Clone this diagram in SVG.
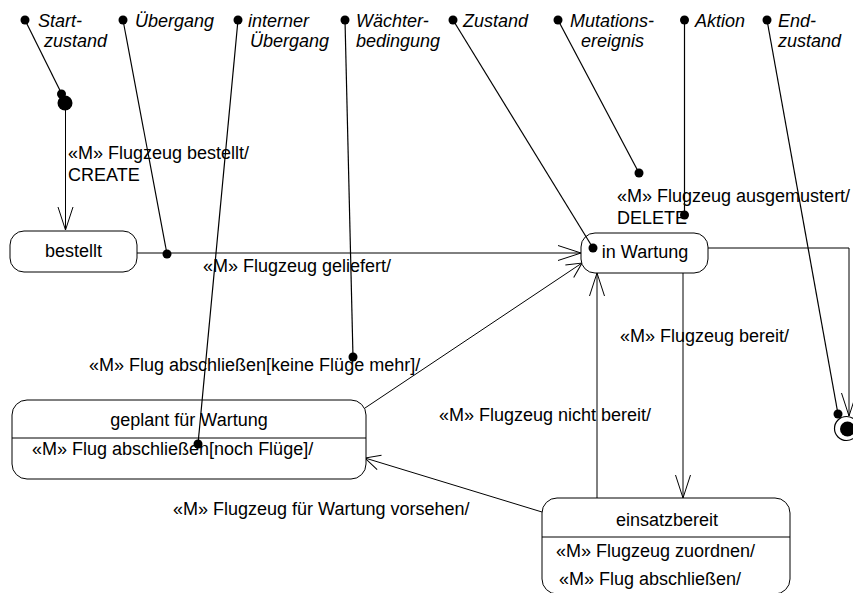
<svg xmlns="http://www.w3.org/2000/svg" width="853" height="593" viewBox="0 0 853 593">
<style>
  text { font-family: "Liberation Sans", Arial, sans-serif; font-size: 18px; fill: #000; }
  .note { font-style: italic; }
  .mid { text-anchor: middle; }
  .box { fill: #fff; stroke: #000; stroke-width: 1; }
  .div { stroke: #000; stroke-width: 1; }
  .edge { fill: none; stroke: #000; stroke-width: 1; }
  .ann { fill: none; stroke: #000; stroke-width: 1.2; }
  .dot { fill: #000; }
</style>
<defs>
  <marker id="arrL" markerUnits="userSpaceOnUse" markerWidth="30" markerHeight="20" refX="0" refY="0" orient="auto" viewBox="-26 -10 30 20" style="overflow:visible">
    <path d="M -23 -7.5 L 0 0 L -23 7.5" fill="none" stroke="#000" stroke-width="1"/>
  </marker>
  <marker id="arrS" markerUnits="userSpaceOnUse" markerWidth="20" markerHeight="20" refX="0" refY="0" orient="auto" viewBox="-18 -10 20 20" style="overflow:visible">
    <path d="M -15 -7.5 L 0 0 L -15 7.5" fill="none" stroke="#000" stroke-width="1"/>
  </marker>
</defs>
<rect x="0" y="0" width="853" height="593" fill="#fff"/>

<g id="connectors">
  <path class="edge" d="M65.5 110 L65.5 230" marker-end="url(#arrL)"/>
  <path class="edge" d="M137 253 L581 253" stroke="#333" marker-end="url(#arrL)"/>
  <path class="edge" d="M365 408 L582 263" marker-end="url(#arrS)"/>
  <path class="edge" d="M597 498 L597 273" marker-end="url(#arrL)"/>
  <path class="edge" d="M683 273 L683 498" marker-end="url(#arrL)"/>
  <path class="edge" d="M542 512 L365 458" marker-end="url(#arrS)"/>
  <path class="edge" d="M708 248 L849 248 L849 416" marker-end="url(#arrL)"/>
</g>

<g id="start">
  <circle cx="65" cy="103" r="7.5" class="dot"/>
</g>

<g id="end">
  <circle cx="846.5" cy="428.5" r="12" fill="#fff" stroke="#000" stroke-width="1.2"/>
  <circle cx="847.5" cy="429" r="7.5" class="dot"/>
</g>

<g id="bestellt">
  <rect class="box" x="10" y="231" width="127" height="41" rx="14"/>
  <text class="mid" x="73.5" y="257">bestellt</text>
</g>

<g id="in-wartung">
  <rect class="box" x="581" y="233" width="127" height="40" rx="14"/>
  <text class="mid" x="645" y="258">in Wartung</text>
</g>

<g id="geplant">
  <rect class="box" x="12" y="400" width="354" height="79" rx="15"/>
  <line class="div" x1="12" y1="438" x2="366" y2="438"/>
  <text class="mid" x="189" y="426">geplant für Wartung</text>
  <text x="32" y="455">«M» Flug abschließen[noch Flüge]/</text>
</g>

<g id="einsatzbereit">
  <rect class="box" x="542" y="498" width="248" height="96" rx="15"/>
  <line class="div" x1="542" y1="537" x2="790" y2="537"/>
  <text class="mid" x="667" y="526">einsatzbereit</text>
  <text x="556" y="557">«M» Flugzeug zuordnen/</text>
  <text x="559" y="585">«M» Flug abschließen/</text>
</g>

<g id="labels">
  <text x="68" y="159">«M» Flugzeug bestellt/</text>
  <text x="68" y="181">CREATE</text>
  <text x="203" y="272">«M» Flugzeug geliefert/</text>
  <text x="617" y="202">«M» Flugzeug ausgemustert/</text>
  <text x="617" y="223.5">DELETE</text>
  <text x="620" y="342">«M» Flugzeug bereit/</text>
  <text x="89" y="371">«M» Flug abschließen[keine Flüge mehr]/</text>
  <text x="439" y="420.5">«M» Flugzeug nicht bereit/</text>
  <text x="173" y="515">«M» Flugzeug für Wartung vorsehen/</text>
</g>

<g id="annotations">
  <path class="ann" d="M25 20 L61.5 93.5"/>
  <circle class="dot" cx="25" cy="20" r="4.5"/>
  <circle class="dot" cx="61.5" cy="94" r="4.5"/>
  <text class="note" x="38" y="27">Start-</text>
  <text class="note" x="44" y="47">zustand</text>

  <path class="ann" d="M123 20 L167 254"/>
  <circle class="dot" cx="123" cy="20" r="4.5"/>
  <circle class="dot" cx="167" cy="254" r="4.5"/>
  <text class="note" x="135" y="27">Übergang</text>

  <path class="ann" d="M238 20 L198 444"/>
  <circle class="dot" cx="238" cy="20" r="4.5"/>
  <circle class="dot" cx="198" cy="444" r="4.5"/>
  <text class="note" x="248" y="27">interner</text>
  <text class="note" x="250" y="47">Übergang</text>

  <path class="ann" d="M345 20 L353 357"/>
  <circle class="dot" cx="345" cy="20" r="4.5"/>
  <circle class="dot" cx="353" cy="357" r="4.5"/>
  <text class="note" x="356" y="27">Wächter-</text>
  <text class="note" x="356" y="47">bedingung</text>

  <path class="ann" d="M453 20 L593 248"/>
  <circle class="dot" cx="453" cy="20" r="4.5"/>
  <circle class="dot" cx="593" cy="248" r="4.5"/>
  <text class="note" x="463" y="27">Zustand</text>

  <path class="ann" d="M558 20 L639 173"/>
  <circle class="dot" cx="558" cy="20" r="4.5"/>
  <circle class="dot" cx="639" cy="173" r="4.5"/>
  <text class="note" x="570" y="27">Mutations-</text>
  <text class="note" x="581" y="47">ereignis</text>

  <path class="ann" d="M684.5 20 L684.5 215"/>
  <circle class="dot" cx="684.5" cy="20" r="4.5"/>
  <circle class="dot" cx="684.5" cy="215" r="4.5"/>
  <text class="note" x="695" y="27">Aktion</text>

  <path class="ann" d="M767 20 L838 414"/>
  <circle class="dot" cx="767" cy="20" r="4.5"/>
  <circle class="dot" cx="838" cy="414" r="4.5"/>
  <text class="note" x="778" y="27">End-</text>
  <text class="note" x="778" y="47">zustand</text>
</g>
</svg>
